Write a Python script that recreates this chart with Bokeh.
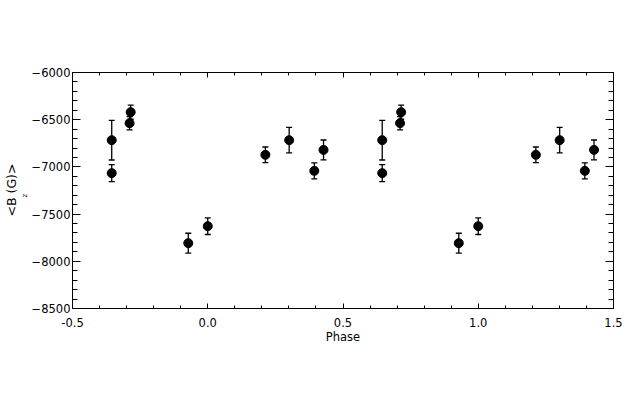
import numpy as np
from bokeh.plotting import figure
from bokeh.models import (ColumnDataSource, Whisker, TeeHead, SingleIntervalTicker,
                          LinearAxis, Range1d, Title, PrintfTickFormatter)
from bokeh.embed import file_html
from bokeh.resources import INLINE

# Data (phase, <Bz> in G, 1-sigma error)
phase = [-0.355, -0.355, -0.285, -0.289, -0.072, 0.0, 0.213, 0.301, 0.394, 0.428]
bz = [-6717, -7066, -6420, -6537, -7808, -7628, -6872, -6717, -7042, -6820]
err = [210, 90, 75, 70, 105, 88, 83, 135, 85, 105]

ph = np.array(phase)
b = np.array(bz, dtype=float)
e = np.array(err, dtype=float)
x_all = np.concatenate([ph, ph + 1.0])
y_all = np.concatenate([b, b])
e_all = np.concatenate([e, e])

src = ColumnDataSource(dict(x=x_all, y=y_all, lo=y_all - e_all, hi=y_all + e_all))

FONT = "DejaVu Sans"
FS = "11.5px"

p = figure(frame_width=541, frame_height=236, output_backend="svg", toolbar_location=None,
           x_range=Range1d(-0.5, 1.5), y_range=Range1d(-8500, -6000),
           min_border_left=72, min_border_right=10, min_border_top=72, min_border_bottom=76,
           x_axis_label="Phase", background_fill_color="white", border_fill_color="white")
p.grid.visible = False
p.outline_line_color = "black"
p.outline_line_width = 1

p.xaxis.ticker = SingleIntervalTicker(interval=0.5, num_minor_ticks=5)
p.yaxis.ticker = SingleIntervalTicker(interval=500, num_minor_ticks=5)
p.xaxis.formatter = PrintfTickFormatter(format="%.1f")

def style(ax, major_in, minor_in, labels=True):
    ax.major_tick_in = major_in
    ax.major_tick_out = 0
    ax.minor_tick_in = minor_in
    ax.minor_tick_out = 0
    ax.axis_line_color = "black"
    ax.major_tick_line_color = "black"
    ax.minor_tick_line_color = "black"
    ax.major_label_text_font = FONT
    ax.major_label_text_font_size = FS
    ax.major_label_text_color = "black" if labels else None
    ax.axis_label_text_font = FONT
    ax.axis_label_text_font_style = "normal"
    ax.axis_label_text_font_size = FS
    ax.axis_label_text_color = "black"

style(p.xaxis[0], 5, 3)
style(p.yaxis[0], 8, 5)
p.xaxis.major_label_standoff = 9
p.xaxis.axis_label_standoff = 0
p.yaxis.major_label_standoff = 2

top = LinearAxis(ticker=SingleIntervalTicker(interval=0.5, num_minor_ticks=5))
style(top, 5, 3, labels=False)
top.major_label_text_font_size = "0px"
p.add_layout(top, "above")
right = LinearAxis(ticker=SingleIntervalTicker(interval=500, num_minor_ticks=5))
style(right, 8, 5, labels=False)
right.major_label_text_font_size = "0px"
p.add_layout(right, "right")

wh = Whisker(source=src, base="x", lower="lo", upper="hi", line_color="black", line_width=1.3,
             lower_head=TeeHead(size=6, line_color="black", line_width=1.3),
             upper_head=TeeHead(size=6, line_color="black", line_width=1.3))
p.add_layout(wh)
p.scatter("x", "y", source=src, size=9, color="black")

# y-axis label  <B_z (G)>  : main text column plus a subscript column next to it
sub = Title(text="z", align="left", offset=111, standoff=0, text_font=FONT,
            text_font_size="7px", text_font_style="normal", text_color="black")
main = Title(text="<B  (G)>", align="left", offset=92, standoff=0, text_font=FONT,
             text_font_size="12.5px", text_font_style="normal", text_color="black")
p.add_layout(sub, "left")
p.add_layout(main, "left")

open("out.html", "w").write(file_html(p, INLINE))
